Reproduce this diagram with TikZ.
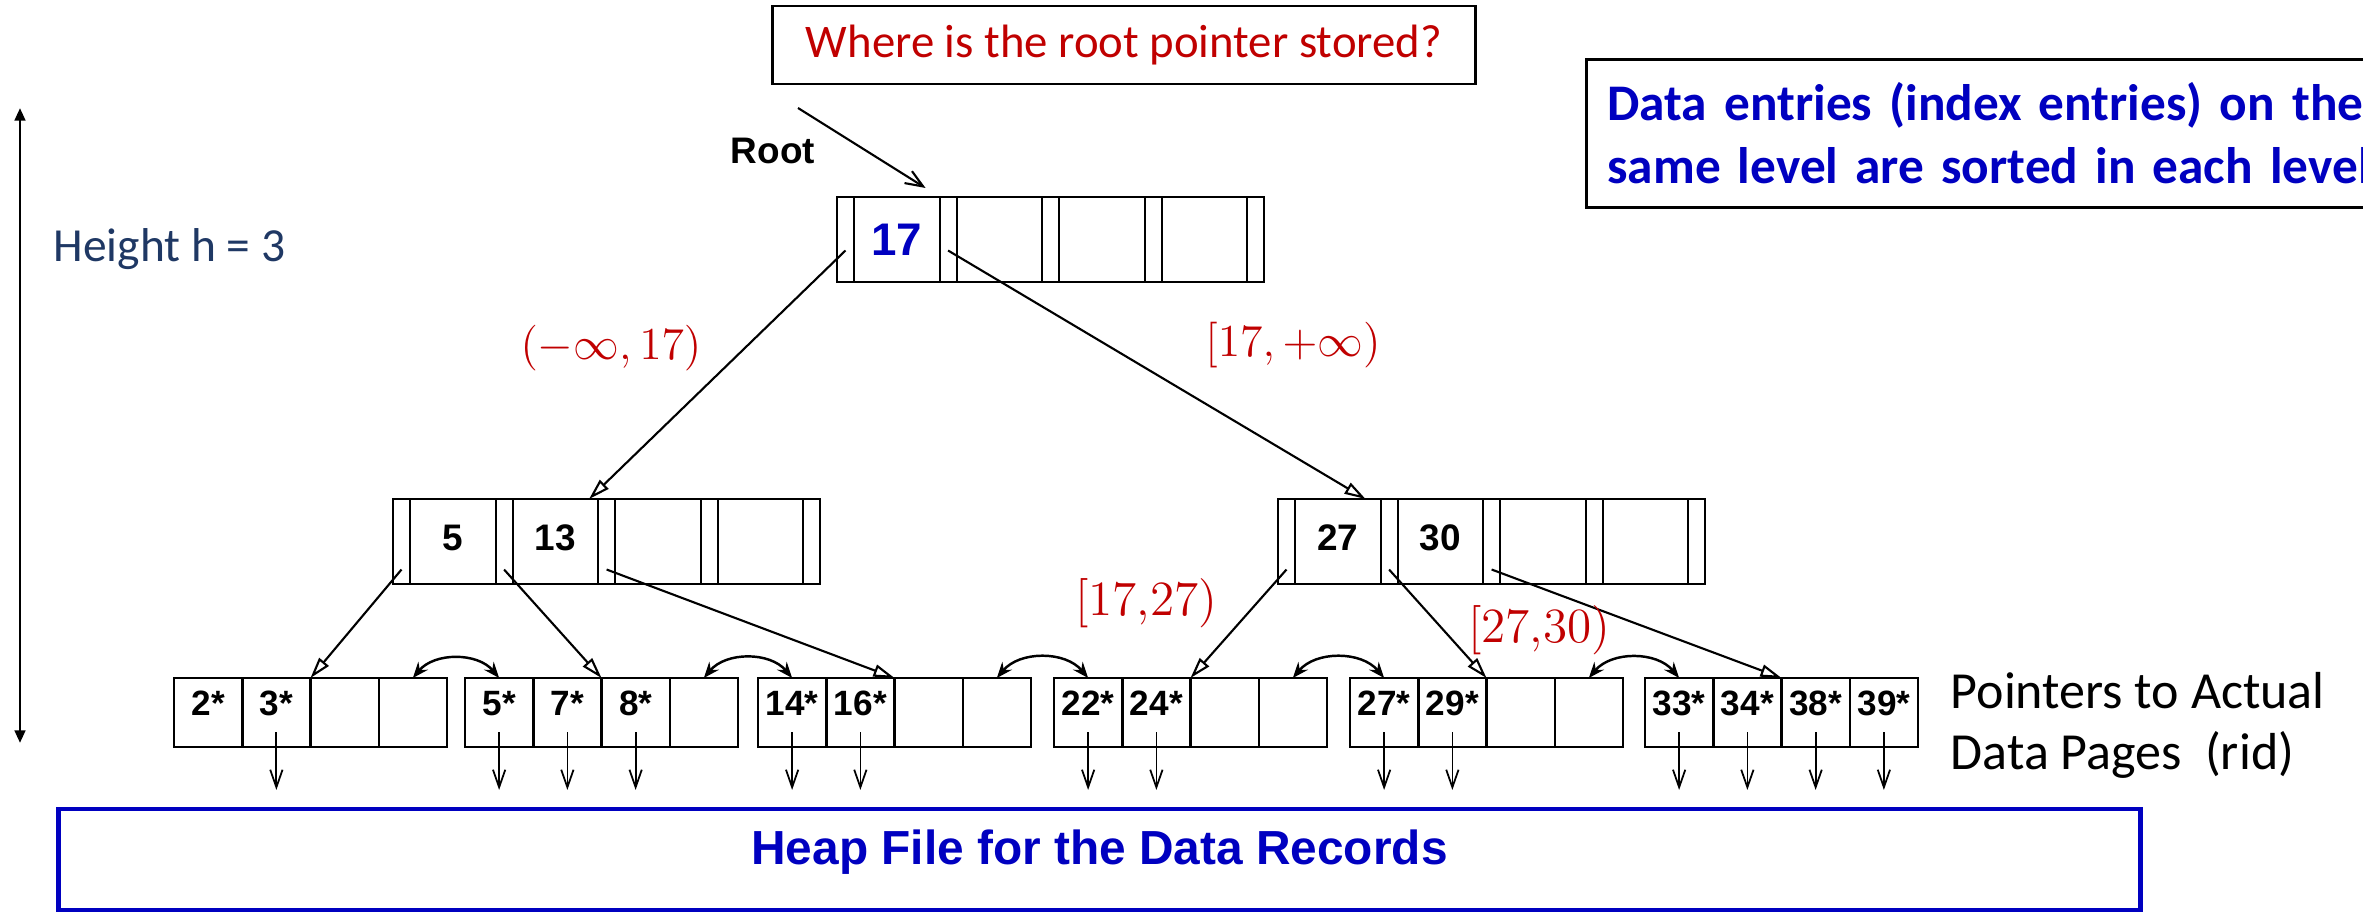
\documentclass[tikz,border=0pt]{standalone}
\usepackage{fix-cm}
\usepackage[no-math]{fontspec}
\setmainfont{Carlito}
\newfontfamily\arialfont{Liberation Sans}
\usetikzlibrary{positioning,arrows.meta}

\definecolor{askred}{RGB}{192,0,0}
\definecolor{noteblue}{RGB}{0,0,192}
\definecolor{hnavy}{RGB}{31,56,100}

\tikzset{
	ptrcell/.style={draw, line width=0.6pt, minimum width=1.7mm, minimum height=8.5mm, inner sep=0pt, outer sep=0pt},
	keycell/.style={draw, line width=0.6pt, minimum width=8.55mm, minimum height=8.5mm, inner sep=0pt, outer sep=0pt,
		font=\arialfont\bfseries\fontsize{10.5}{12}\selectfont, text height=7.5pt, text depth=2.6pt},
	rootkey/.style={text=noteblue, font=\arialfont\bfseries\fontsize{13}{15}\selectfont, text height=9.3pt, text depth=0pt},
	leafcell/.style={draw, line width=0.7pt, minimum width=6.825mm, minimum height=6.9mm, inner sep=0pt, outer sep=0pt,
		font=\arialfont\bfseries\fontsize{10}{12}\selectfont, text height=7.2pt, text depth=5.4pt},
	treeptr/.style={line width=0.6pt, -{Triangle[open,length=6pt,width=3.5pt]}},
	ridptr/.style={line width=0.5pt, -{Straight Barb[length=5pt,width=3.5pt]}, shorten >=1.9mm},
	sibptr/.style={line width=0.7pt, {Stealth[length=4.5pt,width=3.5pt]}-{Stealth[length=4.5pt,width=3.5pt]}},
	rangelbl/.style={text=askred, font=\fontsize{13}{15}\selectfont, inner sep=0pt},
}

% index node: pointer slots p0..p4 between key slots k1..k4
\newcommand\indexnode[5]{%
	\node[ptrcell, anchor=west] (#1p0) at (#2,#3) {};
	\foreach \k [count=\i] in {#5} {
		\pgfmathtruncatemacro\j{\i-1}
		\node[keycell, #4, right=0pt of #1p\j] (#1k\i) {\k};
		\node[ptrcell, right=0pt of #1k\i] (#1p\i) {};
	}
}
% leaf page with four data entries c1..c4
\newcommand\leafnode[3]{%
	\foreach \e [count=\i] in {#3} {
		\node[leafcell] (#1c\i) at ({#2+34.125+68.25*(\i-1)},-712.5) {\e};
	}
}

\begin{document}
\begin{tikzpicture}[x=0.01cm, y=0.01cm]
		\useasboundingbox (0,0) rectangle (2363,-912);
		\clip (0,0) rectangle (2363,-912);

		% notes
		\node[draw, line width=0.8pt, text=askred, font=\fontsize{13.3}{16}\selectfont,
			minimum width=70.2mm, minimum height=7.8mm, inner sep=0pt] (ask) at (1124,-45) {Where is the root pointer stored?};
		\node[draw, line width=0.8pt, anchor=north west, minimum height=14.8mm, text width=100mm,
			inner xsep=2.1mm, inner ysep=0pt, align=left, text=noteblue,
			font=\bfseries\fontsize{14.6}{17.9}\selectfont] (sortnote) at (1585,-58)
			{Data entries (index entries) on the\\same level are sorted in each level};
		\node[anchor=west, text=hnavy, font=\fontsize{13.5}{16}\selectfont, inner sep=0pt] (hlbl) at (53,-249) {Height h = 3};
		\node[anchor=west, align=left, inner sep=0pt, font=\fontsize{14.8}{17.4}\selectfont] (ridlbl) at (1950,-725)
			{Pointers to Actual\\Data Pages\ \ (rid)};
		\node[font=\arialfont\bfseries\fontsize{10.5}{12}\selectfont] (rootlbl) at (773,-151) {Root};

		% tree
		\indexnode{r}{837}{-239.5}{rootkey}{17,{},{},{}}
		\indexnode{ml}{393}{-541.5}{}{5,13,{},{}}
		\indexnode{mr}{1278}{-541.5}{}{27,30,{},{}}

		\leafnode{l1}{174}{2*,3*,{},{}}
		\leafnode{l2}{465}{5*,7*,8*,{}}
		\leafnode{l3}{758}{14*,16*,{},{}}
		\leafnode{l4}{1054}{22*,24*,{},{}}
		\leafnode{l5}{1350}{27*,29*,{},{}}
		\leafnode{l6}{1645}{33*,34*,38*,39*}

		\node[draw=noteblue, line width=1.3pt, outer sep=0pt, minimum width=208.1mm, minimum height=10.1mm,
			text=noteblue, font=\arialfont\bfseries\fontsize{13.6}{16}\selectfont, text depth=7pt] (heap)
			at (1099.5,-859.5) {Heap File for the Data Records};

		% height
		\coordinate (htop) at (20,-108);
		\coordinate (hbot) at (20,-743);
		\draw[line width=0.8pt, {Triangle[length=3.6pt,width=3pt]}-{Triangle[length=3.6pt,width=3pt]}] (htop) -- (hbot);

		% pointers
		\coordinate (askfoot) at (798,-108);
		\draw[line width=0.6pt, -{Straight Barb[length=5pt,width=4pt]}] (askfoot) -- ([xshift=-1.4mm,yshift=0.9mm]rk1.north east);

		\draw[treeptr] ([yshift=-1.1mm]rp0.center) -- ([xshift=-0.9mm]mlk2.north east);
		\draw[treeptr] ([yshift=-1.1mm]rp1.center) -- ([xshift=-1.5mm]mrk1.north east);
		\foreach \p/\lf in {mlp0/l1, mlp1/l2, mlp2/l3, mrp0/l4, mrp1/l5, mrp2/l6}
			\draw[treeptr] ([yshift=-2.8mm]\p.center) -- (\lf c2.north east);

		\foreach \a/\b in {l1c4/l2c1, l2c4/l3c1, l3c4/l4c1, l4c4/l5c1, l5c4/l6c1}
			\draw[sibptr] (\a.north) to[bend left=50] (\b.north);

		\foreach \c in {l1c2, l2c1, l2c2, l2c3, l3c1, l3c2, l4c1, l4c2, l5c1, l5c2, l6c1, l6c2, l6c3, l6c4}
			\draw[ridptr] ([yshift=-1.95mm]\c.center) -- (\c |- heap.north);

		% key ranges
		\node[rangelbl] (lrange) at (611,-348) {$(-\infty, 17)$};
		\node[rangelbl] (rrange) at (1293,-345) {$[17, +\infty)$};
		\node[rangelbl, font=\fontsize{14}{16}\selectfont] (r1727) at (1146,-603) {$[17{,}27)$};
		\node[rangelbl, font=\fontsize{14}{16}\selectfont] (r2730) at (1539,-630) {$[27{,}30)$};
\end{tikzpicture}
\end{document}
